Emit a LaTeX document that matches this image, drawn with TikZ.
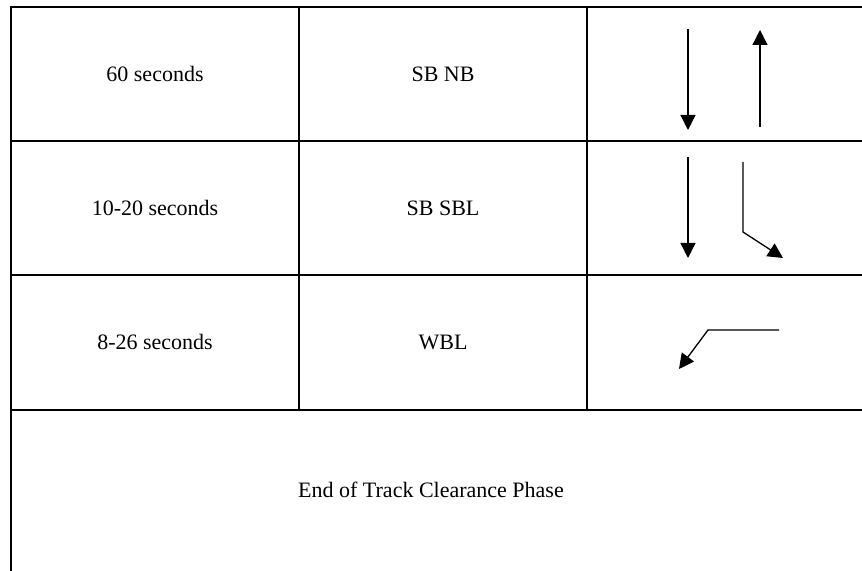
\documentclass[tikz,border=0pt]{standalone}
\usepackage{fontspec}
\setmainfont{Liberation Serif}
\usetikzlibrary{arrows.meta, positioning}

\begin{document}
\begin{tikzpicture}[
    x=0.5pt, y=-0.5pt,
    rule/.style={line width=0.9pt},
    lane/.style={line width=0.65pt, -{Triangle[length=7.5pt,width=7.5pt]}},
    every node/.style={font=\fontsize{11}{13}\selectfont, inner sep=1pt} % Times-like cell text
]
\useasboundingbox (0,0) rectangle (862,571);
% draw the table rules
\draw[rule] (11,571) -- (11,7) -- (862,7);
\draw[rule] (11,141) -- (862,141);
\draw[rule] (11,275) -- (862,275);
\draw[rule] (11,410) -- (862,410);
\draw[rule] (299,7) -- (299,410);
\draw[rule] (587,7) -- (587,410);
% draw the cell texts
\node (time_1) at (155,74) {60 seconds};
\node (move_1) at (443,74) {SB NB};
\node (time_2) at (155,208) {10-20 seconds};
\node (move_2) at (443,208) {SB SBL};
\node (time_3) at (155,342) {8-26 seconds};
\node (move_3) at (443,342) {WBL};
\node (phase_end) at (431,490) {End of Track Clearance Phase};
% draw the lane arrows
\draw[lane] (688,29) -- (688,130); % note the tips
\draw[lane] (760,127) -- (760,30);
\draw[lane] (688,157) -- (688,258);
\draw[lane] (743,162) -- (743,232) -- (783,258);
\draw[lane] (779,330) -- (708,330) -- (679,369);
\end{tikzpicture}
\end{document}
